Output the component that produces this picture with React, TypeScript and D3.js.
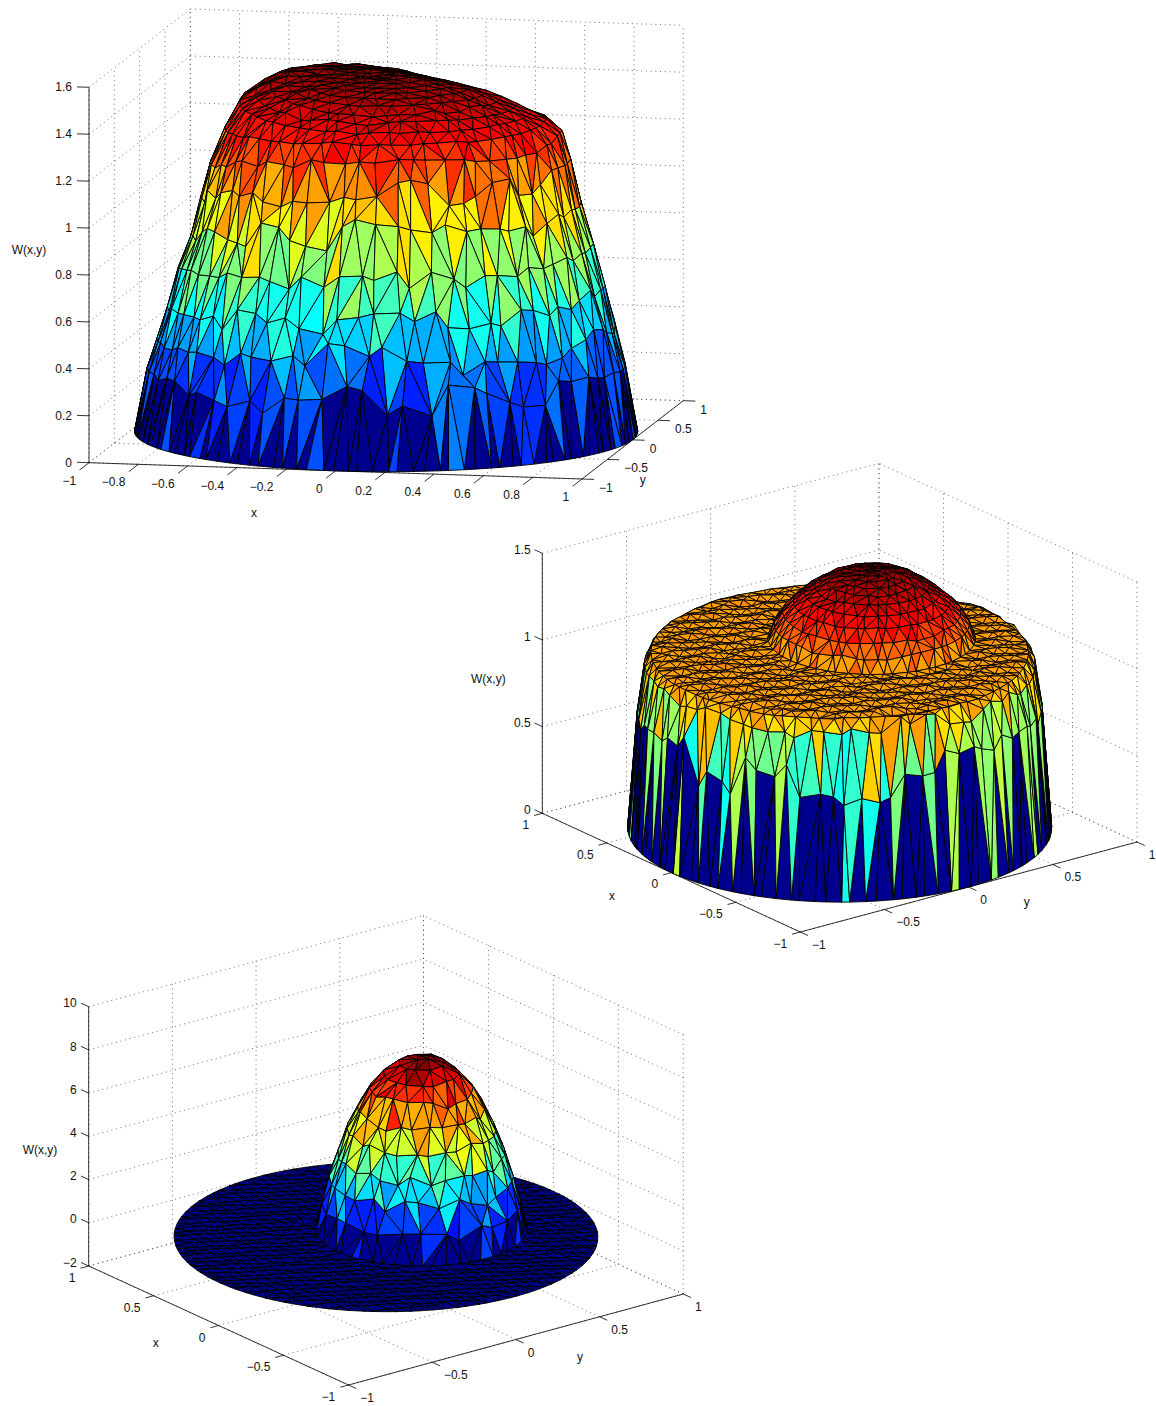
import React, { useEffect, useRef } from 'react';
import * as d3 from 'd3';

// tick values of the three axes boxes
const xTicksA = [-1, -0.8, -0.6, -0.4, -0.2, 0, 0.2, 0.4, 0.6, 0.8, 1];
const yTicksA = [-1, -0.5, 0, 0.5, 1];
const zTicksA = [0, 0.2, 0.4, 0.6, 0.8, 1, 1.2, 1.4, 1.6];
const xTicksB = [-1, -0.5, 0, 0.5, 1];
const yTicksB = [-1, -0.5, 0, 0.5, 1];
const zTicksB = [0, 0.5, 1, 1.5];
const xTicksC = [-1, -0.5, 0, 0.5, 1];
const yTicksC = [-1, -0.5, 0, 0.5, 1];
const zTicksC = [-2, 0, 2, 4, 6, 8, 10];

// first surface: rings of mesh nodes, from the rim inwards
const ringRadiusA = [1, 0.95, 0.91, 0.87, 0.825, 0.775, 0.735, 0.7, 0.64, 0.58, 0.52, 0.46, 0.4, 0.34, 0.28, 0.22, 0.16, 0.1, 0.05];
const ringHeightA = [0, 0.28, 0.44, 0.6, 0.78, 0.96, 1.13, 1.26, 1.33, 1.37, 1.4, 1.43, 1.455, 1.475, 1.49, 1.5, 1.51, 1.515, 1.515];
const ringCountA = [120, 70, 72, 72, 70, 68, 66, 64, 66, 58, 52, 46, 38, 32, 26, 20, 14, 9, 4];
const ringRippleA = [0, 0.06, 0.07, 0.08, 0.08, 0.07, 0.06, 0.02, 0.01, 0.01, 0.01, 0.01, 0.005, 0.005, 0.005, 0, 0, 0, 0];
// the wall leans lower on the left, the crown rises towards the back left
const ringLeanA = [0, 0.02, 0.05, 0.07, 0.1, 0.12, 0.14, 0.12, 0.05, 0, 0, 0, 0, 0, 0, 0, 0, 0, 0];
const leanA = [0.2, 0.1, 0, 0, 0, 0, 0, 0, -0.2, -0.4, -0.7, -0.9, -1, -0.9, -0.7, -0.2, 0.2, 0.4, 0.2, 0, -0.3, -0.4, -0.2, 0.1];
const ringCrownA = [0, 0, 0, 0, 0, 0, 0, 0, 0.02, 0.05, 0.07, 0.07, 0.06, 0.04, 0.03, 0.02, 0.01, 0, 0];
const crownA = [0, 0, 0, 0, 0, 0, 0, 0, 0, 0.1, 0.3, 0.5, 0.8, 1, 1, 1, 0.8, 0.5, 0.2, -0.2, -0.5, -0.7, -0.6, -0.3];
const waveA = [0.3, 0.6, 0.9, -0.6, 0.8, -0.5, 1, -0.2, -0.7, -0.4, 0.4, 0.8, 0.2, 0.1, -0.3, 0.4, 0.2, -0.1, 0.3, -0.2, 0.1, 0.2, -0.3, 0.1];
const peakA = 1.53;
const tipA = 1.52;

// second surface: wall rings, plateau, then the dome rings around its own centre
const wallRadiusB = [1, 0.955, 0.92, 0.89];
const wallHeightB = [0, 0.68, 0.95, 1.01];
const wallCountB = [104, 84, 84, 96];
const wallRippleB = [0, 0.14, 0.06, 0.01];
const waveB = [0.5, 0.8, 0.7, 0.8, 0.3, -0.9, -0.7, 0.4, -0.9, 0.7, 0, -0.4, -0.5, 0.2, -0.2, 0.4, 0.1, -0.3, 0.2, 0.3, -0.1, 0.1, 0.2, 0.3];
const plateauB = 1.02;
const domeCentreB = [0.045, 0.225];
const domeRadiusB = [0.49, 0.46, 0.42, 0.37, 0.32, 0.27, 0.22, 0.17, 0.12, 0.07, 0.03];
const domeHeightB = [1.02, 1.1, 1.17, 1.23, 1.28, 1.32, 1.355, 1.38, 1.395, 1.405, 1.41];
const domeCountB = [56, 52, 48, 44, 38, 32, 26, 20, 14, 9, 4];
const domeRippleB = [0, 0.012, 0.012, 0.01, 0.01, 0.008, 0.006, 0.004, 0, 0, 0];
const peakB = 1.42;
const tipB = 1.41;

// third surface: flat disc with one tall bump
const wallRadiusC = [1];
const wallHeightC = [0];
const wallCountC = [112];
const wallRippleC = [0];
const plateauC = 0;
const domeCentreC = [-0.017, 0.198];
const domeRadiusC = [0.5, 0.47, 0.435, 0.395, 0.35, 0.3, 0.245, 0.18, 0.11, 0.04];
const domeHeightC = [0, 1.2, 2.4, 3.5, 4.6, 5.6, 6.5, 7.2, 7.7, 7.95];
const domeCountC = [52, 30, 32, 32, 30, 28, 24, 18, 11, 4];
const domeRippleC = [0, 0.3, 0.4, 0.4, 0.4, 0.3, 0.25, 0.12, 0.05, 0];
const waveC = [0.2, 0.5, -0.4, 0.6, -0.7, 0.3, 0.6, -0.5, 0.2, 0.7, -0.4, 0.5, -0.2, 0.3, 0.1, -0.3, 0.2, -0.1, 0.4, -0.2, 0.3, -0.4, 0.1, 0.2];
const peakC = 8;
const tipC = 8;

// small irregularities of the mesh nodes
const nudge = [0.42, -0.71, 0.13, 0.88, -0.35, -0.92, 0.57, 0.21, -0.48, 0.76, -0.14, 0.64, -0.83, 0.31, -0.57, 0.95, -0.22, 0.49, -0.66, 0.08,
  0.73, -0.39, 0.27, -0.97, 0.52, -0.11, 0.84, -0.61, 0.36, -0.29, 0.68, -0.78, 0.17, 0.91, -0.44, 0.03, -0.86, 0.59, -0.19, 0.38,
  -0.53, 0.79, -0.05, 0.46, -0.74, 0.23, 0.98, -0.32, 0.62, -0.89, 0.11, -0.41, 0.71, -0.26, 0.54, -0.68, 0.33, 0.86, -0.16, -0.59, 0.44];
// which vertex gives a triangle its flat colour (1 = the lone vertex on the other ring)
const flatPickOuter = [0, 0, 0, 0, 0, 1, 0, 0, 0, 0, 0, 0, 1, 0, 0, 0, 0];
const flatPickInner = [0, 1, 1, 0, 1, 0, 1, 1, 0, 0, 1, 0, 1, 0, 1];

const panels = [
  {
    A: [89, 462.7], B: [582, 479], C: [190.3, 384.4], height: 375.4, zDomain: [0, 1.6], backX: -1, tick: 12,
    xTicks: xTicksA, yTicks: yTicksA, zTicks: zTicksA,
    xOff: [-3.3, 10.5], yOff: [5, 8.3], zOff: [-5, 0],
    zTitle: [29, 250], xTitle: [254, 513], yTitle: [642.7, 480],
    mesh: {
      wallR: ringRadiusA, wallH: ringHeightA, wallN: ringCountA, wallK: ringRippleA, wallL: ringLeanA, lean: leanA,
      wallC: ringCrownA, crown: crownA, wave: waveA, peak: peakA, tip: tipA,
    },
  },
  {
    A: [800.3, 932], B: [542.3, 813.3], C: [1137, 842], height: 260, zDomain: [0, 1.5], backX: 1, tick: 8.5,
    xTicks: xTicksB, yTicks: yTicksB, zTicks: zTicksB,
    xOff: [-5, 9.3], yOff: [4, 8.8], zOff: [-4, 0],
    zTitle: [488.3, 679], xTitle: [612, 896], yTitle: [1026.7, 901.3],
    mesh: {
      wallR: wallRadiusB, wallH: wallHeightB, wallN: wallCountB, wallK: wallRippleB, wave: waveB, peak: peakB, tip: tipB,
      plateau: plateauB, spacing: 0.06, centre: domeCentreB,
      domeR: domeRadiusB, domeH: domeHeightB, domeN: domeCountB, domeK: domeRippleB,
    },
  },
  {
    A: [348.5, 1385], B: [88.7, 1266], C: [683.3, 1294], height: 259.3, zDomain: [-2, 10], backX: 1, tick: 8.5,
    xTicks: xTicksC, yTicks: yTicksC, zTicks: zTicksC,
    xOff: [-5, 9.8], yOff: [4, 9.5], zOff: [-4.3, 0],
    zTitle: [40, 1150], xTitle: [155.7, 1342.3], yTitle: [580, 1356.7],
    mesh: {
      wallR: wallRadiusC, wallH: wallHeightC, wallN: wallCountC, wallK: wallRippleC, wave: waveC, peak: peakC, tip: tipC,
      plateau: plateauC, spacing: 0.06, centre: domeCentreC,
      domeR: domeRadiusC, domeH: domeHeightC, domeN: domeCountC, domeK: domeRippleC,
    },
  },
];

// matlab's jet map, 64 steps
const jetScale = d3.scaleLinear<string>()
  .domain([0, 0.111, 0.365, 0.619, 0.873, 1])
  .range(['#00008f', '#0000ff', '#00ffff', '#ffff00', '#ff0000', '#800000'])
  .interpolate(d3.interpolateRgb)
  .clamp(true);
const jet = (t: number) => jetScale(Math.round(Math.max(0, Math.min(1, t)) * 63) / 63);

const minus = (v: number) => String(v).replace('-', '\u2212');

function makeView(p: any) {
  const sxX = d3.scaleLinear().domain([-1, 1]).range([p.A[0], p.B[0]]);
  const syX = d3.scaleLinear().domain([-1, 1]).range([p.A[1], p.B[1]]);
  const sxY = d3.scaleLinear().domain([-1, 1]).range([0, p.C[0] - p.A[0]]);
  const syY = d3.scaleLinear().domain([-1, 1]).range([0, p.C[1] - p.A[1]]);
  const sz = d3.scaleLinear().domain(p.zDomain).range([0, -p.height]);
  const project = (x: number, y: number, z: number): [number, number] =>
    [sxX(x) + sxY(y), syX(x) + syY(y) + sz(z)];
  // unit steps on screen
  const ex = [(p.B[0] - p.A[0]) / 2, (p.B[1] - p.A[1]) / 2];
  const ey = [(p.C[0] - p.A[0]) / 2, (p.C[1] - p.A[1]) / 2];
  const R = Math.hypot(ex[0], ey[0]);
  const V = Math.hypot(ex[1], ey[1]);
  const sinEl = V / R;
  const cosEl = Math.sqrt(1 - sinEl * sinEl);
  const zPx = p.height / (p.zDomain[1] - p.zDomain[0]);
  const depth = (x: number, y: number, z: number) =>
    ((ex[1] * x + ey[1] * y) / V) * cosEl + ((z * zPx) / (R * cosEl)) * sinEl;
  const det = ex[0] * ey[1] - ex[1] * ey[0];
  // direction in the x,y plane that shows at screen angle theta (0 right, 90deg front)
  const dirOf = (theta: number) => {
    const sx = R * Math.cos(theta);
    const sy = V * Math.sin(theta);
    const x = (sx * ey[1] - sy * ey[0]) / det;
    const y = (ex[0] * sy - ex[1] * sx) / det;
    const n = Math.hypot(x, y);
    return [x / n, y / n];
  };
  return { project, depth, dirOf, ex, ey };
}

function buildMesh(mesh: any, dirOf: (t: number) => number[]) {
  const verts: any[] = [];
  const tris: number[][] = [];
  let counter = 0;
  let triCount = 0;

  const addRing = (r: number, h: number, n: number, ripple: number, k: number, cx: number, cy: number, leanAmp: number, crownAmp: number) => {
    const step = (Math.PI * 2) / n;
    const ids: number[] = [];
    for (let i = 0; i < n; i++) {
      counter++;
      const a = nudge[counter % nudge.length];
      const b = nudge[(counter * 3 + 7) % nudge.length];
      const theta = (k % 2) * 0.5 * step + i * step + a * 0.26 * step;
      const wrapped = ((theta % (Math.PI * 2)) + Math.PI * 2) % (Math.PI * 2);
      const sector = Math.floor(wrapped / ((Math.PI * 2) / mesh.wave.length));
      const wave = mesh.wave[(sector + Math.max(k - 1, 0) * 5) % mesh.wave.length];
      const lift = (mesh.lean ? mesh.lean[sector] * leanAmp : 0) + (mesh.crown ? mesh.crown[sector] * crownAmp : 0);
      // keep the outline smooth: ripple fades towards the left and right edges
      const fade = 0.2 + 0.8 * Math.abs(Math.sin(theta));
      const d = dirOf(theta);
      const rr = ripple > 0 ? r * (1 + b * 0.003 * fade) : r;
      ids.push(verts.length);
      verts.push({ x: cx + rr * d[0], y: cy + rr * d[1], z: h + lift + ripple * fade * (wave + 0.5 * b), theta });
    }
    return ids;
  };

  const zipper = (a: number[], b: number[]) => {
    const thetaOf = (ids: number[], i: number) =>
      i < ids.length ? verts[ids[i]].theta : verts[ids[0]].theta + Math.PI * 2;
    let i = 0;
    let j = 0;
    while (i < a.length || j < b.length) {
      const advanceA = j >= b.length || (i < a.length && thetaOf(a, i + 1) <= thetaOf(b, j + 1));
      const ai = a[i % a.length];
      const bj = b[j % b.length];
      triCount++;
      if (advanceA) {
        const tri = [ai, a[(i + 1) % a.length], bj];
        tris.push(flatPickOuter[triCount % flatPickOuter.length] ? [tri[2], tri[0], tri[1]] : tri);
        i++;
      } else {
        const tri = [bj, b[(j + 1) % b.length], ai];
        tris.push(flatPickInner[triCount % flatPickInner.length] ? [tri[2], tri[0], tri[1]] : tri);
        j++;
      }
    }
  };

  const fan = (ring: number[], tip: number) => {
    ring.forEach((id, i) => tris.push([tip, id, ring[(i + 1) % ring.length]]));
  };

  const runRings = (rs: number[], hs: number[], ns: number[], ks: number[], ls: number[] | undefined, cs: number[] | undefined, cx: number, cy: number) => {
    const rings = rs.map((r, k) => addRing(r, hs[k], ns[k], ks[k], k, cx, cy, ls ? ls[k] : 0, cs ? cs[k] : 0));
    d3.pairs(rings).forEach(([a, b]) => zipper(a, b));
    return rings;
  };

  const wall = runRings(mesh.wallR, mesh.wallH, mesh.wallN, mesh.wallK, mesh.wallL, mesh.wallC, 0, 0);
  const lastWall = wall[wall.length - 1];

  if (!mesh.domeR) {
    verts.push({ x: 0, y: 0, z: mesh.tip, theta: 0 });
    fan(lastWall, verts.length - 1);
    return { verts, tris };
  }

  const [cx, cy] = mesh.centre;
  const dome = runRings(mesh.domeR, mesh.domeH, mesh.domeN, mesh.domeK, undefined, undefined, cx, cy);
  const base = dome[0];
  const tip = dome[dome.length - 1];
  verts.push({ x: cx, y: cy, z: mesh.tip, theta: 0 });
  fan(tip, verts.length - 1);

  // plateau between rim and dome: loose triangular lattice, then a Delaunay pass
  const h = mesh.spacing;
  const rim = mesh.wallR[mesh.wallR.length - 1];
  const domeR = mesh.domeR[0];
  const ids = [...lastWall, ...base];
  d3.range(-1, 1, h * 0.866).forEach((py, row) => {
    d3.range(-1 + (row % 2) * h * 0.5, 1, h).forEach((px) => {
      counter++;
      const x = px + nudge[counter % nudge.length] * 0.14 * h;
      const y = py + nudge[(counter * 5 + 3) % nudge.length] * 0.14 * h;
      if (Math.hypot(x, y) < rim - 0.6 * h && Math.hypot(x - cx, y - cy) > domeR + 0.6 * h) {
        ids.push(verts.length);
        verts.push({ x, y, z: mesh.plateau + nudge[counter % nudge.length] * 0.008, theta: 0 });
      }
    });
  });
  const delaunay = d3.Delaunay.from(ids, (i: number) => verts[i].x, (i: number) => verts[i].y);
  const baseSet = new Set(base);
  for (let t = 0; t < delaunay.triangles.length; t += 3) {
    const tri = [ids[delaunay.triangles[t]], ids[delaunay.triangles[t + 1]], ids[delaunay.triangles[t + 2]]];
    if (tri.every((v) => baseSet.has(v))) continue;
    tris.push(tri);
  }
  return { verts, tris };
}

function drawPanel(svg: any, p: any) {
  const view = makeView(p);
  const { project, depth } = view;
  const line = d3.line();
  const [z0, z1] = p.zDomain;
  const g = svg.append('g');

  // box grid on the two back walls and the floor
  const grid: [number[], number[]][] = [];
  p.yTicks.forEach((v: number) => {
    grid.push([[p.backX, v, z0], [p.backX, v, z1]]);
    grid.push([[-1, v, z0], [1, v, z0]]);
  });
  p.xTicks.forEach((v: number) => {
    grid.push([[v, 1, z0], [v, 1, z1]]);
    grid.push([[v, -1, z0], [v, 1, z0]]);
  });
  p.zTicks.forEach((v: number) => {
    grid.push([[p.backX, -1, v], [p.backX, 1, v]]);
    grid.push([[-1, 1, v], [1, 1, v]]);
  });
  g.append('g').selectAll('path').data(grid).join('path')
    .attr('d', (s: any) => line(s.map((q: number[]) => project(q[0], q[1], q[2]))))
    .attr('fill', 'none')
    .attr('stroke', '#333')
    .attr('stroke-width', 0.7)
    .attr('stroke-dasharray', '1 3.7');

  // axes
  const norm = (u: number[], len: number) => {
    const n = Math.hypot(u[0], u[1]);
    return [(u[0] / n) * len, (u[1] / n) * len];
  };
  const front = -p.backX;
  const xTick = norm([-view.ey[0], -view.ey[1]], p.tick);
  const yTick = norm([front * view.ex[0], front * view.ex[1]], p.tick);
  const zTick = norm([p.backX * view.ex[0], p.backX * view.ex[1]], p.tick);
  const axes = g.append('g').attr('stroke', '#000').attr('stroke-width', 0.8).attr('fill', 'none');
  const segment = (a: [number, number], b: [number, number]) => axes.append('path').attr('d', line([a, b]));
  segment(project(-1, -1, z0), project(1, -1, z0));
  segment(project(front, -1, z0), project(front, 1, z0));
  segment(project(p.backX, -1, z0), project(p.backX, -1, z1));

  const labels = g.append('g')
    .attr('font-family', '"Liberation Sans", Arial, sans-serif')
    .attr('font-size', 12)
    .attr('fill', '#111');
  const put = (t: string, x: number, y: number, anchor: string) =>
    labels.append('text').attr('x', x).attr('y', y).attr('dy', '0.35em').attr('text-anchor', anchor).text(t);

  p.xTicks.forEach((v: number) => {
    const a = project(v, -1, z0);
    const b: [number, number] = [a[0] + xTick[0], a[1] + xTick[1]];
    segment(a, b);
    put(minus(v), b[0] + p.xOff[0], b[1] + p.xOff[1], 'end');
  });
  p.yTicks.forEach((v: number) => {
    const a = project(front, v, z0);
    const b: [number, number] = [a[0] + yTick[0], a[1] + yTick[1]];
    segment(a, b);
    put(minus(v), b[0] + p.yOff[0], b[1] + p.yOff[1], 'start');
  });
  p.zTicks.forEach((v: number) => {
    const a = project(p.backX, -1, v);
    const b: [number, number] = [a[0] + zTick[0], a[1] + zTick[1]];
    segment(a, b);
    put(minus(v), b[0] + p.zOff[0], b[1] + p.zOff[1], 'end');
  });
  put('W(x,y)', p.zTitle[0], p.zTitle[1], 'middle');
  put('x', p.xTitle[0], p.xTitle[1], 'middle');
  put('y', p.yTitle[0], p.yTitle[1], 'middle');

  // the surface, painted back to front
  const { verts, tris } = buildMesh(p.mesh, view.dirOf);
  const faces = tris.map((tri) => {
    const pts = tri.map((i) => verts[i]);
    const d = depth(
      d3.mean(pts, (q: any) => q.x) as number,
      d3.mean(pts, (q: any) => q.y) as number,
      d3.mean(pts, (q: any) => q.z) as number,
    );
    return { d, path: line(pts.map((q: any) => project(q.x, q.y, q.z))) + 'Z', fill: jet(pts[0].z / p.mesh.peak) };
  });
  faces.sort((a, b) => a.d - b.d);
  g.append('g').selectAll('path').data(faces).join('path')
    .attr('d', (f: any) => f.path)
    .attr('fill', (f: any) => f.fill)
    .attr('stroke', '#000')
    .attr('stroke-width', 0.9)
    .attr('stroke-linejoin', 'round');
}

export default function App() {
  const ref = useRef<SVGSVGElement>(null);
  useEffect(() => {
    const svg = d3.select(ref.current);
    svg.selectAll('*').remove();
    panels.forEach((p) => drawPanel(svg, p));
  }, []);
  return (
    <svg
      ref={ref}
      width={1156}
      height={1406}
      style={{ position: 'absolute', left: 0, top: 0, background: '#fff' }}
    />
  );
}
